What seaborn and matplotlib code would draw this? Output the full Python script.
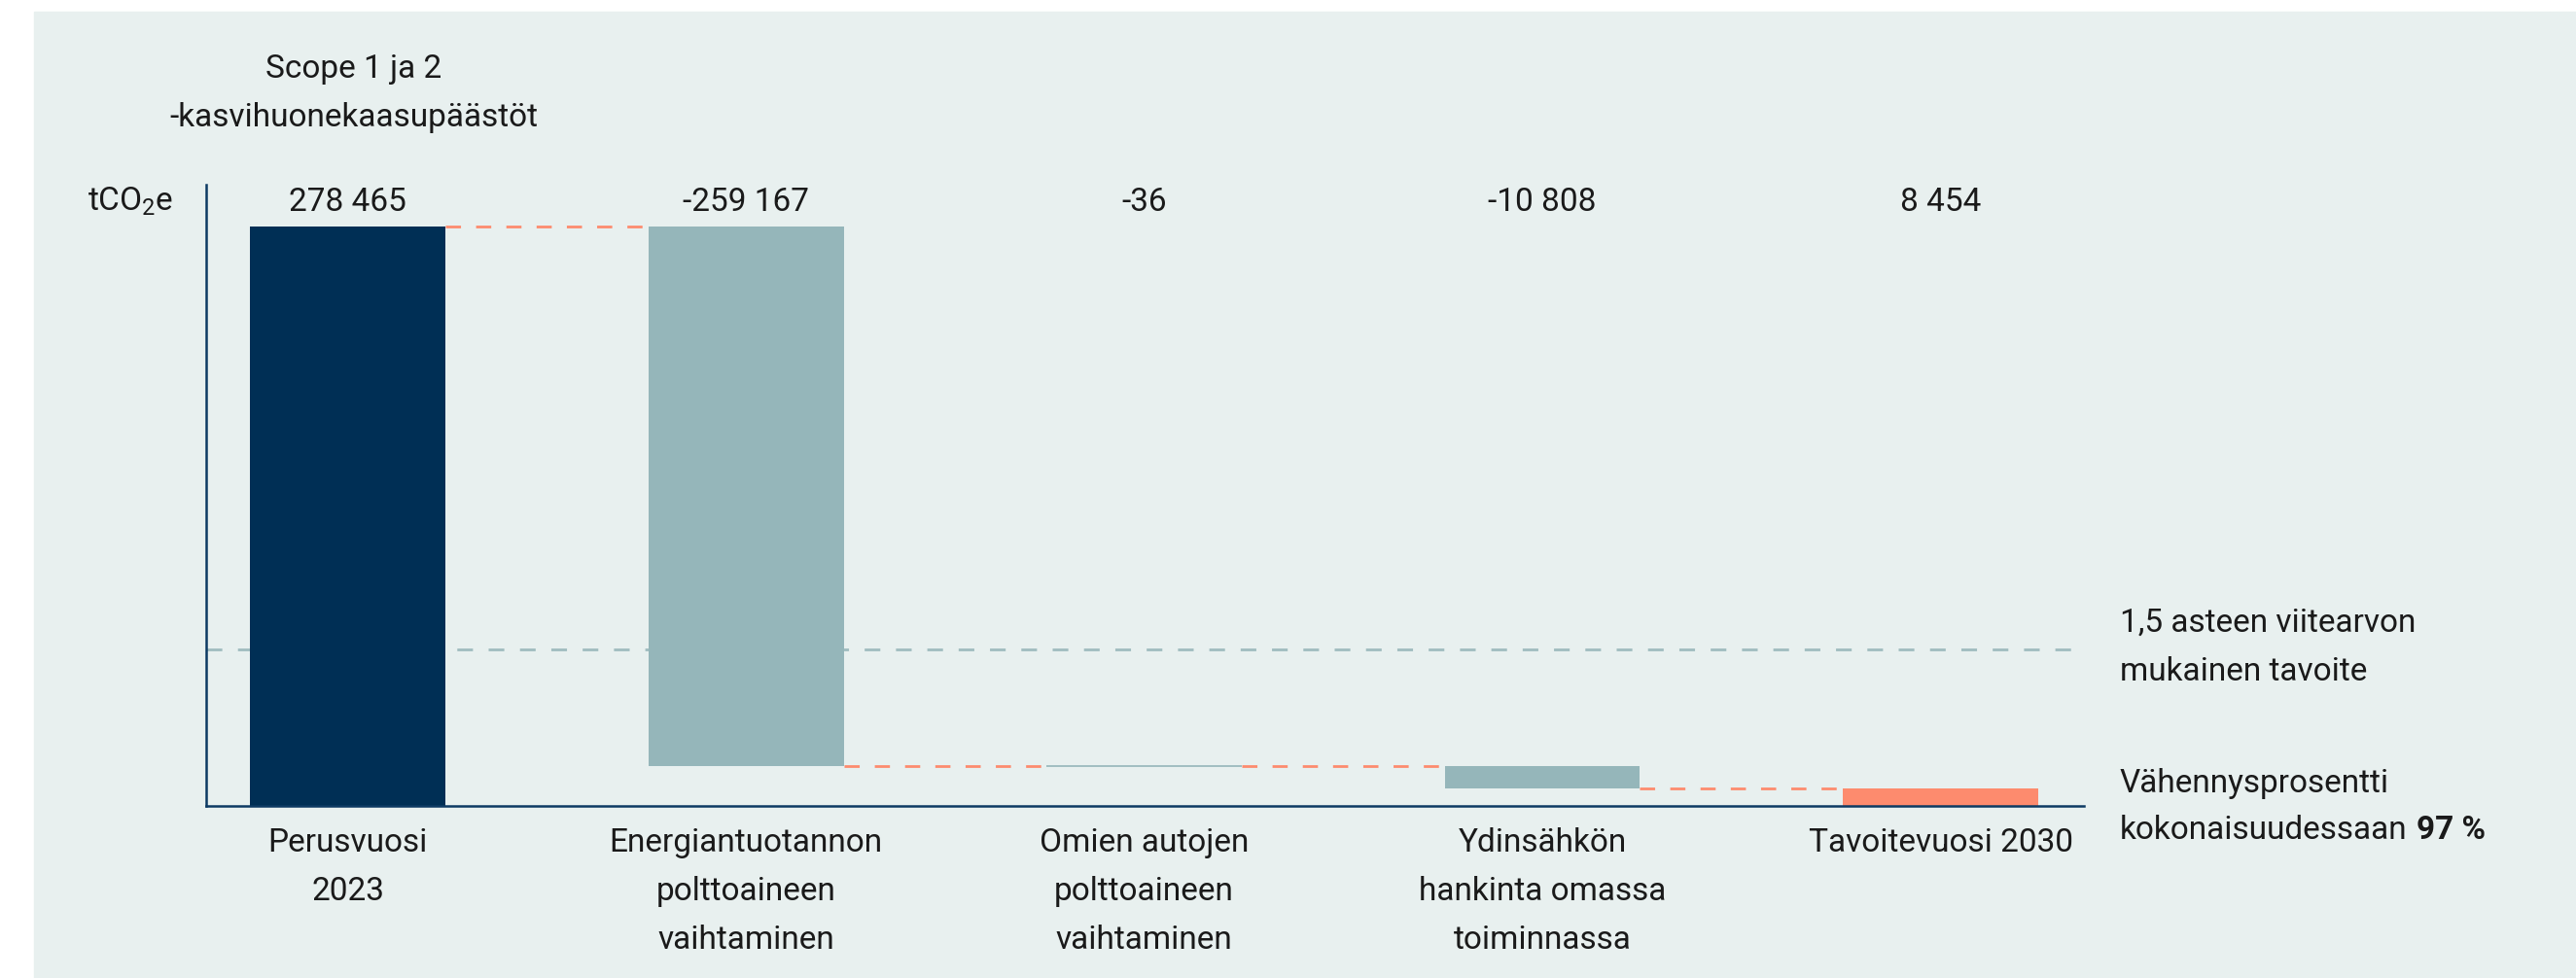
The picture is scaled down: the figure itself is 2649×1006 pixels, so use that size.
import numpy as np
import pandas as pd
import matplotlib.pyplot as plt
import seaborn as sns
from matplotlib.patches import Rectangle

# tiedot kuvasta
categories = ["Perusvuosi\n2023",
              "Energiantuotannon\npolttoaineen\nvaihtaminen",
              "Omien autojen\npolttoaineen\nvaihtaminen",
              "Ydinsähkön\nhankinta omassa\ntoiminnassa",
              "Tavoitevuosi 2030"]
changes = [278465, -259167, -36, -10808]
target_2030 = 8454
value_labels = ["278 465", "-259 167", "-36", "-10 808", "8 454"]
reference_level = 75000  # 1,5 asteen viitearvo, arvioitu kuvasta
colors = ["#002f55", "#95b6ba", "#95b6ba", "#95b6ba", "#fd8b6e"]

levels = np.cumsum(changes)
starts = [0] + list(levels[:-1])
bottoms = [min(s, e) for s, e in zip(starts, levels)] + [0]
heights = [abs(c) for c in changes] + [target_2030]

df = pd.DataFrame({"kategoria": categories, "korkeus": heights})

sns.set_theme(style="white")
plt.rcParams["font.family"] = ["Roboto", "DejaVu Sans"]
plt.rcParams["mathtext.default"] = "regular"
txt = "#1a1a1a"
navy = "#0d3a63"
salmon = "#fd8b6e"
ls = 1.72

fig = plt.figure(figsize=(26.49, 10.06), dpi=100, facecolor="white")
fig.add_artist(Rectangle((35 / 2649, 0), 1, 1 - 12 / 1006, transform=fig.transFigure,
                         color="#e8f0ef", zorder=-1))
ax = fig.add_axes([212 / 2649, 1 - 829 / 1006, 1931 / 2649, 639 / 1006])
ax.patch.set_visible(False)

w = 0.49
sns.barplot(data=df, x="kategoria", y="korkeus", hue="kategoria", palette=colors,
            width=w, saturation=1, legend=False, ax=ax)
for p, b in zip(ax.patches, bottoms):
    p.set_y(b)
    p.set_linewidth(0)
ax.patches[2].set_edgecolor(colors[2])
ax.patches[2].set_linewidth(1.2)

# yhdysviivat
for i, lvl in enumerate(levels):
    ax.plot([i + w / 2, i + 1 - w / 2], [lvl, lvl], color=salmon, lw=2,
            dashes=(5.6, 5.6), zorder=3)

ax.axhline(reference_level, color="#a0bcbf", lw=2, dashes=(5.8, 5.8), zorder=0.5)

ax.set_xlim(-0.356, 4.36)
ax.set_ylim(0, 298500)
ax.set_yticks([])
ax.set_xlabel("")
ax.set_ylabel("")
ax.tick_params(axis="x", length=0, pad=16, labelsize=24, labelcolor=txt)
for t in ax.get_xticklabels():
    t.set_linespacing(ls)

sns.despine(ax=ax)
for s in ["left", "bottom"]:
    ax.spines[s].set_color(navy)
    ax.spines[s].set_linewidth(1.8)

tr = ax.get_xaxis_transform()
for i, lab in enumerate(value_labels):
    ax.text(i, 0.958, lab, transform=tr, ha="center", va="baseline", fontsize=24, color=txt)

ax.text(0.015, 1.094, "Scope 1 ja 2\n-kasvihuonekaasupäästöt", transform=tr,
        ha="center", va="baseline", fontsize=24, color=txt, linespacing=ls,
        multialignment="center")
ax.text(-0.0176, 0.958, "tCO$_2$e", transform=ax.transAxes, ha="right", va="baseline",
        fontsize=24, color=txt)

ax.text(1.019, 0.202, "1,5 asteen viitearvon\nmukainen tavoite", transform=ax.transAxes,
        ha="left", va="baseline", fontsize=24, color=txt, linespacing=ls)
ax.text(1.019, 0.022, "Vähennysprosentti", transform=ax.transAxes,
        ha="left", va="baseline", fontsize=24, color=txt)
kok = ax.text(1.019, -0.053, "kokonaisuudessaan", transform=ax.transAxes,
              ha="left", va="baseline", fontsize=24, color=txt)
ax.annotate("97 %", xy=(1, -0.053), xycoords=(kok, "axes fraction"),
            xytext=(7, 0), textcoords="offset points", ha="left", va="baseline",
            fontsize=24, fontweight="bold", color=txt)

fig.savefig("out.png", dpi=100, facecolor="white")
